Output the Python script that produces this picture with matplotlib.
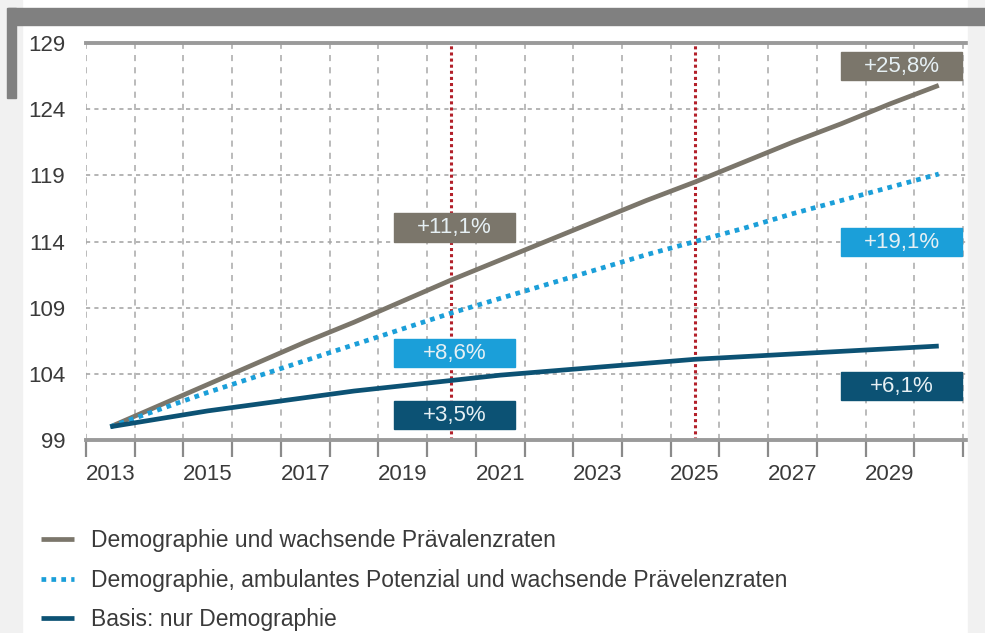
import numpy as np
import matplotlib.pyplot as plt
from matplotlib.patches import Rectangle

plt.rcParams['font.family'] = ['Liberation Sans', 'DejaVu Sans']

# Jahre und Indexwerte (2013 = 100)
years = np.arange(2013, 2031)
praevalenz = [100.0, 101.6, 103.2, 104.8, 106.4, 107.9, 109.5, 111.1, 112.6,
              114.1, 115.6, 117.1, 118.5, 120.0, 121.5, 122.9, 124.4, 125.8]
ambulant = [100.0, 101.3, 102.6, 103.8, 105.0, 106.2, 107.4, 108.6, 109.7,
            110.8, 111.9, 113.0, 114.0, 115.0, 116.1, 117.1, 118.1, 119.1]
basis = [100.0, 100.6, 101.2, 101.7, 102.2, 102.7, 103.1, 103.5, 103.9,
         104.2, 104.5, 104.8, 105.1, 105.3, 105.5, 105.7, 105.9, 106.1]

series_labels = ["Demographie und wachsende Prävalenzraten",
                 "Demographie, ambulantes Potenzial und wachsende Prävelenzraten",
                 "Basis: nur Demographie"]

y_ticks = [99, 104, 109, 114, 119, 124, 129]
x_labels = [2013, 2015, 2017, 2019, 2021, 2023, 2025, 2027, 2029]
marker_years = [2020, 2025]

# Prozent-Kästchen
box_texts = ["+25,8%", "+11,1%", "+19,1%", "+8,6%", "+3,5%", "+6,1%"]

c_grey = "#7b766b"
c_cyan = "#1b9fd9"
c_dark = "#0c5274"

fig = plt.figure(figsize=(9.85, 6.33), dpi=100)
W, H = 985, 633

# Hintergrund / Rahmen
fig.patches.append(Rectangle((0, 0), 22 / W, 1, transform=fig.transFigure,
                             color="#f1f1f1", zorder=0))
fig.patches.append(Rectangle((968 / W, 0), 17 / W, 1, transform=fig.transFigure,
                             color="#f1f1f1", zorder=0))
fig.patches.append(Rectangle((8 / W, 1 - 25 / H), 1, 17 / H, transform=fig.transFigure,
                             color="#808080", zorder=1))
fig.patches.append(Rectangle((7 / W, 1 - 98 / H), 9 / W, 90 / H, transform=fig.transFigure,
                             color="#808080", zorder=1))

ax = fig.add_axes([86 / W, (H - 440) / H, 882 / W, 397 / H])
ax.set_facecolor("none")
ax.set_xlim(2012.5, 2030.6)
ax.set_ylim(99, 129)

# Gitter
for yv in y_ticks[1:-1]:
    ax.axhline(yv, color="#a8a8a8", lw=1.2, ls=(0, (2.5, 2.5)), zorder=1)
for xv in np.arange(2012.5, 2031, 1):
    ax.axvline(xv, color="#a8a8a8", lw=1.1, ls=(0, (4, 4)), zorder=1)
ax.axhline(129, color="#9a9a9a", lw=2.8, zorder=2, clip_on=False)
for xv in marker_years:
    ax.axvline(xv, color="#b3202a", lw=2.2, ls=(0, (1, 1)), zorder=2)

# Linien
l1, = ax.plot(years, praevalenz, color=c_grey, lw=3.4, solid_capstyle="butt", zorder=4)
l2, = ax.plot(years, ambulant, color=c_cyan, lw=3.4, ls=(0, (1, 1.1)), zorder=4)
l3, = ax.plot(years, basis, color=c_dark, lw=3.4, solid_capstyle="butt", zorder=5)

# Kästchen
box_specs = [(2028.0, 126.2, c_grey), (2018.82, 114.0, c_grey),
             (2028.0, 112.9, c_cyan), (2018.82, 104.5, c_cyan),
             (2018.82, 99.8, c_dark), (2028.0, 102.0, c_dark)]
for txt, (bx, by, col) in zip(box_texts, box_specs):
    ax.add_patch(Rectangle((bx, by), 2.48, 2.15, color=col, zorder=6))
    ax.text(bx + 1.24, by + 1.05, txt, color="#e6f0f4", fontsize=16,
            ha="center", va="center", zorder=7)

# Achsen
for s in ["left", "right", "top"]:
    ax.spines[s].set_visible(False)
ax.spines["bottom"].set_color("#9a9a9a")
ax.spines["bottom"].set_linewidth(2.8)
ax.spines["bottom"].set_zorder(3)

ax.set_yticks(y_ticks)
ax.set_yticklabels([str(v) for v in y_ticks])
ax.tick_params(axis="y", length=0, pad=15, labelsize=16, labelcolor="#3a3a3a")

ax.set_xticks(x_labels)
ax.set_xticklabels([str(v) for v in x_labels])
ax.tick_params(axis="x", which="major", length=0, pad=17, labelsize=16,
               labelcolor="#3a3a3a")
ax.set_xticks(np.arange(2012.5, 2031, 1), minor=True)
ax.tick_params(axis="x", which="minor", length=12, width=1.6, color="#8a8a8a",
               direction="out")

fig.legend([l1, l2, l3], series_labels, loc="upper left",
           bbox_to_anchor=(30 / W, 1 - 518 / H), frameon=False, fontsize=16.5,
           handlelength=1.4, handletextpad=0.75, labelspacing=0.72,
           labelcolor="#3a3a3a", borderpad=0)

fig.savefig("out.png", dpi=100)
